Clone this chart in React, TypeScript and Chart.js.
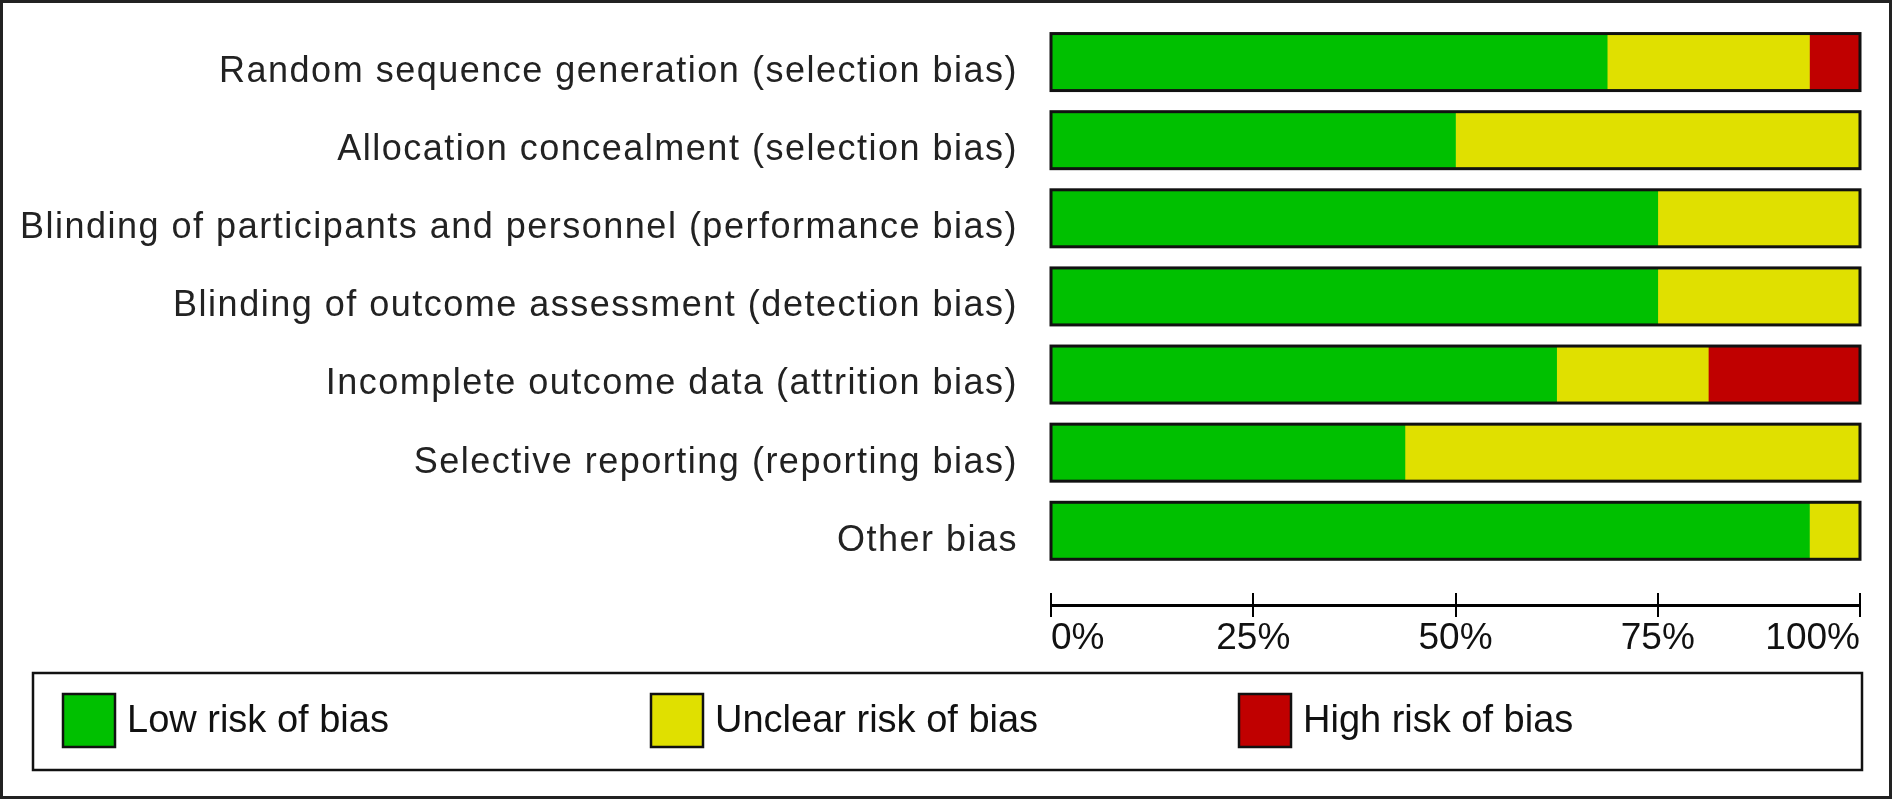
import React, { useEffect, useRef } from 'react';
import { Chart, registerables } from 'chart.js';

Chart.register(...registerables);

const categories = [
  'Random sequence generation (selection bias)',
  'Allocation concealment (selection bias)',
  'Blinding of participants and personnel (performance bias)',
  'Blinding of outcome assessment (detection bias)',
  'Incomplete outcome data (attrition bias)',
  'Selective reporting (reporting bias)',
  'Other bias',
];
const lowRisk = [68.75, 50, 75, 75, 62.5, 43.75, 93.75];
const unclearRisk = [25, 50, 25, 25, 18.75, 56.25, 6.25];
const highRisk = [6.25, 0, 0, 0, 18.75, 0, 0];
const seriesNames = ['Low risk of bias', 'Unclear risk of bias', 'High risk of bias'];
const seriesColors = ['#00C000', '#E0E000', '#C00000'];
const xTickValues = [0, 25, 50, 75, 100];

const FONT = '"Liberation Sans", Arial, sans-serif';

const drawPlugin = {
  id: 'robDecor',
  beforeDraw(chart: any) {
    const ctx = chart.ctx;
    ctx.save();
    ctx.fillStyle = '#ffffff';
    ctx.fillRect(0, 0, chart.width, chart.height);
    ctx.restore();
    ctx.letterSpacing = '1.5px';
  },
  beforeDatasetsDraw(chart: any) {
    chart.ctx.letterSpacing = '0px';
  },
  afterDatasetsDraw(chart: any) {
    const ctx = chart.ctx;
    const xs = chart.scales.x;
    const x0 = xs.getPixelForValue(0);
    const x1 = xs.getPixelForValue(100);
    const meta = chart.getDatasetMeta(0);
    ctx.save();
    ctx.strokeStyle = '#111';
    ctx.lineWidth = 3;
    meta.data.forEach((el: any) => {
      const h = el.height;
      ctx.strokeRect(x0, el.y - h / 2, x1 - x0, h);
    });
    ctx.restore();
  },
  afterDraw(chart: any) {
    const ctx = chart.ctx;
    ctx.letterSpacing = '0px';
    const xs = chart.scales.x;
    const bottom = chart.chartArea.bottom;
    ctx.save();
    // upper halves of the axis ticks
    ctx.strokeStyle = '#000';
    ctx.lineWidth = 2;
    xs.ticks.forEach((t: any) => {
      const px = Math.round(xs.getPixelForValue(t.value));
      ctx.beginPath();
      ctx.moveTo(px, bottom - 12);
      ctx.lineTo(px, bottom);
      ctx.stroke();
    });
    // legend box
    ctx.lineWidth = 2.5;
    ctx.strokeStyle = '#111';
    ctx.strokeRect(33, 673, 1829, 97);
    ctx.font = `38px ${FONT}`;
    ctx.textBaseline = 'middle';
    ctx.textAlign = 'left';
    chart.data.datasets.forEach((ds: any, i: number) => {
      const sx = 63 + i * 588;
      ctx.fillStyle = ds.backgroundColor;
      ctx.fillRect(sx, 694, 52, 53);
      ctx.lineWidth = 2.5;
      ctx.strokeStyle = '#111';
      ctx.strokeRect(sx, 694, 52, 53);
      ctx.fillStyle = '#111';
      ctx.fillText(ds.label, sx + 64, 722);
    });
    // outer frame
    ctx.lineWidth = 3;
    ctx.strokeStyle = '#222';
    ctx.strokeRect(1.5, 1.5, 1889, 796);
    ctx.restore();
  },
};

export default function App() {
  const ref = useRef<HTMLCanvasElement>(null);
  useEffect(() => {
    document.body.style.margin = '0';
    const series = [lowRisk, unclearRisk, highRisk];
    const chart = new Chart(ref.current as HTMLCanvasElement, {
      type: 'bar',
      data: {
        datasets: series.map((arr, k) => ({
          label: seriesNames[k],
          data: arr.map((v, i) => ({ x: v, y: i })),
          backgroundColor: seriesColors[k],
          borderWidth: 0,
          barThickness: 57,
        })),
      } as any,
      options: {
        animation: false,
        responsive: false,
        devicePixelRatio: 1,
        indexAxis: 'y',
        layout: { padding: { top: 23, right: 33, bottom: 135, left: 0 } },
        plugins: {
          legend: { display: false },
          tooltip: { enabled: false },
        },
        scales: {
          x: {
            type: 'linear',
            position: 'bottom',
            min: 0,
            max: 100,
            stacked: true,
            offset: false,
            afterBuildTicks: (s: any) => {
              s.ticks = xTickValues.map((v) => ({ value: v }));
            },
            afterFit: (s: any) => {
              s.height = 60;
            },
            grid: {
              display: true,
              drawOnChartArea: false,
              drawTicks: true,
              tickLength: 12,
              color: '#000',
              lineWidth: 2,
            },
            border: { display: true, color: '#000', width: 3 },
            ticks: {
              align: 'inner',
              padding: 0,
              color: '#111',
              font: { family: FONT, size: 37 },
              callback: (v: any) => `${v}%`,
              autoSkip: false,
              maxRotation: 0,
              z: 1,
            },
          },
          y: {
            type: 'linear',
            reverse: true,
            min: -0.5,
            max: 6.95,
            offset: false,
            stacked: true,
            afterBuildTicks: (s: any) => {
              s.ticks = categories.map((_, i) => ({ value: i }));
            },
            afterFit: (s: any) => {
              s.width = 1051;
              s.paddingTop = 0;
              s.paddingBottom = 0;
            },
            grid: { display: false, drawTicks: false, offset: false },
            border: { display: false },
            ticks: {
              padding: 33,
              labelOffset: 10,
              color: '#222',
              autoSkip: false,
              font: { family: FONT, size: 36 },
              callback: (v: any) => categories[v] ?? '',
            },
          },
        },
      } as any,
      plugins: [drawPlugin],
    });
    return () => chart.destroy();
  }, []);
  return (
    <div style={{ width: 1893, height: 800 }}>
      <canvas ref={ref} width={1893} height={800} style={{ display: 'block', width: 1893, height: 800 }} />
    </div>
  );
}
